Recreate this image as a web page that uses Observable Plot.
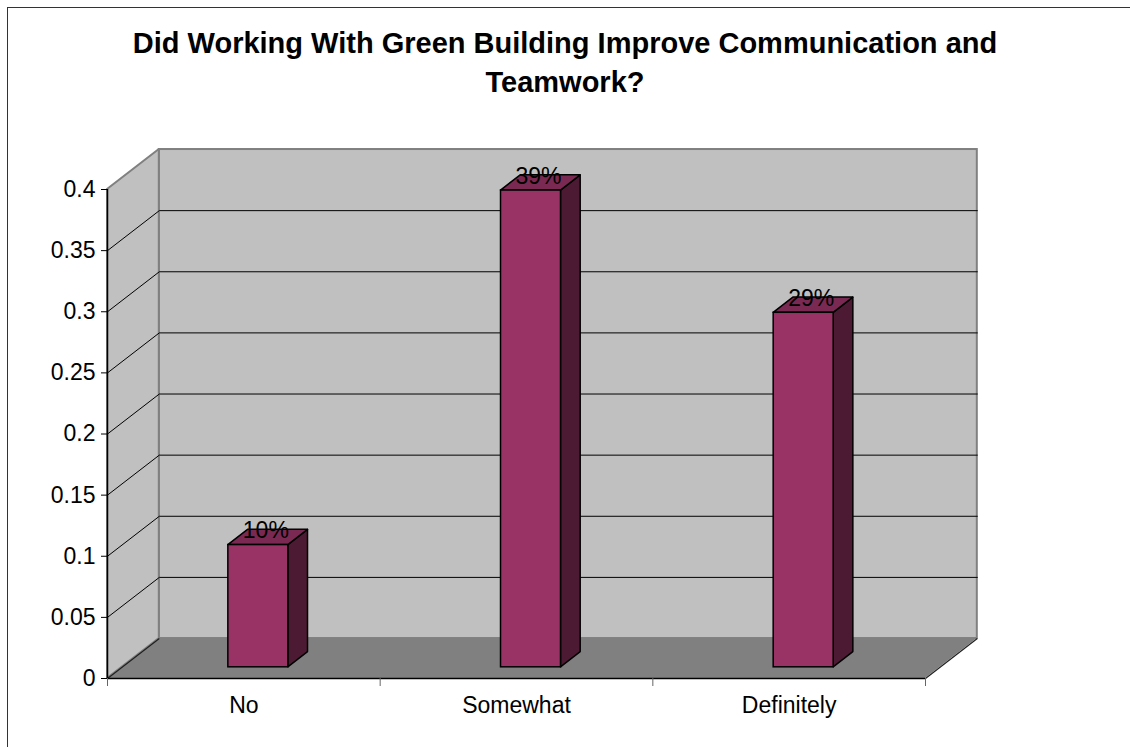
<!DOCTYPE html>
<html><head><meta charset="utf-8">
<script src="https://cdn.jsdelivr.net/npm/d3@7"></script>
<script src="https://cdn.jsdelivr.net/npm/@observablehq/plot@0.6"></script>
<style>
html,body{margin:0;padding:0;background:#fff;overflow:hidden}
#wrap{position:relative;width:1130px;height:747px;overflow:hidden;font-family:"Liberation Sans",Arial,sans-serif;color:#000}
#title{height:110px;box-sizing:border-box;padding-top:23.5px;text-align:center;font-weight:bold;font-size:29px;line-height:39px}
#chart svg{display:block;background:transparent}
#border{position:absolute;left:7px;top:7px;width:1300px;height:900px;border:1.5px solid #333;box-sizing:border-box;pointer-events:none}
</style></head><body>
<div id="wrap">
  <div id="title"></div>
  <div id="chart"></div>
  <div id="border"></div>
</div>
<script>
// ---- data ----
const titleLines = ["Did Working With Green Building Improve Communication and", "Teamwork?"];
const categories = ["No", "Somewhat", "Definitely"];
const values = [0.10, 0.39, 0.29];
const valueLabels = ["10%", "39%", "29%"];
const yTicks = [0, 0.05, 0.1, 0.15, 0.2, 0.25, 0.3, 0.35, 0.4];
const yTickLabels = ["0", "0.05", "0.1", "0.15", "0.2", "0.25", "0.3", "0.35", "0.4"];
const xTicks = [0, 1, 2, 3];

// ---- 3D layout constants (in scale units) ----
const N = categories.length, YMAX = 0.4;
const DX = 0.19, DY = 0.0327;      // full depth offset of the back wall
const F1 = 0.28, F2 = 0.66;        // bar front/back depth fractions
const LO = 0.39, HI = 0.61;        // bar extent within a category

document.getElementById("title").innerHTML = titleLines.join("<br>");

const backWall = [{x1: DX, x2: N + DX, y1: DY, y2: YMAX + DY}];
const leftWall = [{x: 0, y1: 0, y2: YMAX}, {x: DX, y1: DY, y2: YMAX + DY}];
const floor = [{y: 0, x1: 0, x2: N}, {y: DY, x1: DX, x2: N + DX}];
const floorEdges = [{x1: 0, y1: 0, x2: DX, y2: DY}, {x1: N, y1: 0, x2: N + DX, y2: DY}];
const grid = yTicks.filter(v => v > 0 && v < YMAX).flatMap(v => [
  {v, x: 0, y: v}, {v, x: DX, y: v + DY}, {v, x: N + DX, y: v + DY}
]);
const bars = categories.map((c, i) => ({c, i, v: values[i], label: valueLabels[i]}));
const fronts = bars.map(b => ({x1: b.i + LO + F1 * DX, x2: b.i + HI + F1 * DX, y1: F1 * DY, y2: b.v + F1 * DY}));
const sides = bars.flatMap(b => [
  {i: b.i, x: b.i + HI + F1 * DX, y1: F1 * DY, y2: b.v + F1 * DY},
  {i: b.i, x: b.i + HI + F2 * DX, y1: F2 * DY, y2: b.v + F2 * DY}
]);
const tops = bars.flatMap(b => [
  {i: b.i, y: b.v + F1 * DY, x1: b.i + LO + F1 * DX, x2: b.i + HI + F1 * DX},
  {i: b.i, y: b.v + F2 * DY, x1: b.i + LO + F2 * DX, x2: b.i + HI + F2 * DX}
]);
const labels = bars.map(b => ({x: b.i + 0.5 + F1 * DX, y: b.v + F1 * DY, label: b.label}));
const catLabels = bars.map(b => ({x: b.i + 0.5, y: 0, c: b.c}));

const chart = Plot.plot({
  width: 1130, height: 637,
  marginLeft: 107, marginRight: 205, marginTop: 79, marginBottom: 69,
  x: {type: "linear", domain: [0, N]},
  y: {type: "linear", domain: [0, YMAX]},
  style: {fontFamily: '"Liberation Sans", Arial, sans-serif', background: "transparent", overflow: "visible", color: "#000"},
  marks: [
    Plot.rect(backWall, {x1: "x1", x2: "x2", y1: "y1", y2: "y2", fill: "#C0C0C0", stroke: "#808080", strokeWidth: 2}),
    Plot.areaY(leftWall, {x: "x", y1: "y1", y2: "y2", fill: "#C0C0C0", stroke: "#808080", strokeWidth: 2}),
    Plot.areaX(floor, {y: "y", x1: "x1", x2: "x2", fill: "#808080"}),
    Plot.link(floorEdges, {x1: "x1", y1: "y1", x2: "x2", y2: "y2", stroke: "#202020", strokeWidth: 1.2}),
    Plot.line(grid, {x: "x", y: "y", z: "v", stroke: "#000", strokeWidth: 1}),
    Plot.ruleX([0], {y1: 0, y2: YMAX, stroke: "#000", strokeWidth: 1.5}),
    Plot.ruleY([0], {x1: 0, x2: N, stroke: "#000", strokeWidth: 1.5}),
    Plot.axisY(yTicks, {tickSize: 6, tickPadding: 6, fontSize: 23, stroke: "#000", fill: "#000",
      tickFormat: d => yTickLabels[yTicks.indexOf(d)]}),
    Plot.axisX(xTicks, {tickSize: 8, stroke: "#666", tickFormat: () => ""}),
    Plot.text(catLabels, {x: "x", y: "y", text: "c", dy: 27.6, fontSize: 23, fill: "#000"}),
    Plot.areaY(sides, {x: "x", y1: "y1", y2: "y2", z: "i", fill: "#4D1A33", stroke: "#000", strokeWidth: 1.5}),
    Plot.areaX(tops, {y: "y", x1: "x1", x2: "x2", z: "i", fill: "#7A2952", stroke: "#000", strokeWidth: 1.5}),
    Plot.rect(fronts, {x1: "x1", x2: "x2", y1: "y1", y2: "y2", fill: "#993366", stroke: "#000", strokeWidth: 1.5}),
    Plot.text(labels, {x: "x", y: "y", text: "label", dx: 7.5, dy: -14.4, fontSize: 23, fill: "#000"})
  ]
});
document.getElementById("chart").appendChild(chart);
</script>
</body></html>
